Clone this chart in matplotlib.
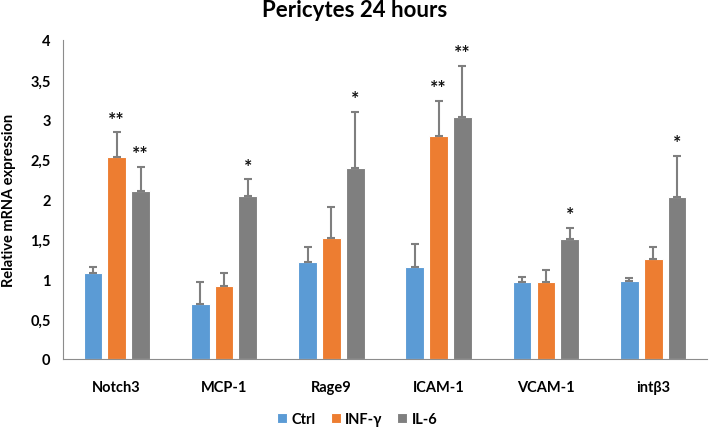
import numpy as np
import matplotlib
matplotlib.use("Agg")
import matplotlib.pyplot as plt
from matplotlib.ticker import FuncFormatter

plt.rcParams["font.family"] = ["Lato", "DejaVu Sans"]
plt.rcParams["font.weight"] = "bold"

# ---------------------------------------------------------------- data
genes = ["Notch3", "MCP-1", "Rage9", "ICAM-1", "VCAM-1", "intβ3"]
series = ["Ctrl", "INF-γ", "IL-6"]

ctrl = [1.08, 0.69, 1.21, 1.15, 0.97, 0.98]
ctrl_err = [0.07, 0.28, 0.19, 0.29, 0.06, 0.03]
infg = [2.53, 0.91, 1.51, 2.79, 0.97, 1.25]
infg_err = [0.31, 0.17, 0.40, 0.45, 0.14, 0.15]
il6 = [2.11, 2.04, 2.39, 3.03, 1.50, 2.03]
il6_err = [0.30, 0.21, 0.71, 0.64, 0.14, 0.52]

infg_sig = ["**", "", "", "**", "", ""]
il6_sig = ["**", "*", "*", "**", "*", "*"]

colors = ["#5B9BD5", "#ED7D31", "#7F7F7F"]

# ---------------------------------------------------------------- figure
fig = plt.figure(figsize=(7.09, 4.31), dpi=100)
ax = fig.add_axes([0.089, 0.165, 0.908, 0.74])

x = np.arange(len(genes))
width = 0.175
step = 0.222

values = [ctrl, infg, il6]
errors = [ctrl_err, infg_err, il6_err]
sigs = [None, infg_sig, il6_sig]

for i, (vals, errs, col, name) in enumerate(zip(values, errors, colors, series)):
    pos = x + (i - 1) * step
    ax.bar(pos, vals, width, color=col, edgecolor="white", linewidth=0.8,
           label=name, zorder=2)
    ax.errorbar(pos, vals, yerr=[np.zeros(len(errs)), errs], fmt="none",
                ecolor="#7F7F7F", elinewidth=1.5, capsize=2.8, capthick=1.5,
                zorder=3)
    if sigs[i] is not None:
        for p, v, e, s in zip(pos, vals, errs, sigs[i]):
            if s:
                ax.text(p, v + e + 0.06, s, ha="center", va="bottom",
                        fontsize=14, fontweight="bold", color="#111111")

ax.set_xlim(-0.5, len(genes) - 0.5)
ax.set_ylim(0, 4)
ax.set_yticks(np.arange(0, 4.01, 0.5))
ax.yaxis.set_major_formatter(
    FuncFormatter(lambda v, _: f"{v:g}".replace(".", ",")))
ax.set_xticks(x)
ax.set_xticklabels(genes)

for side in ["top", "right"]:
    ax.spines[side].set_visible(False)
ax.spines["left"].set_color("#8C8C8C")
ax.spines["bottom"].set_color("#8C8C8C")
ax.tick_params(axis="y", length=0, labelsize=10.5, pad=9)
ax.tick_params(axis="x", length=0, labelsize=10.5, pad=15)
for lab in ax.get_xticklabels() + ax.get_yticklabels():
    lab.set_fontweight("bold")

ax.set_ylabel("Relative mRNA expression", fontsize=10.5, fontweight="bold",
              labelpad=10)
fig.text(0.5, 0.975, "Pericytes 24 hours", ha="center", va="center",
         fontsize=16, fontweight="bold")

leg = ax.legend(loc="center", bbox_to_anchor=(0.457, -0.19), ncol=3,
                frameon=False, fontsize=10.5, handlelength=0.7,
                handleheight=0.7, handletextpad=0.3, columnspacing=1.0)
for t in leg.get_texts():
    t.set_fontweight("bold")

fig.savefig("out.png", dpi=100)
